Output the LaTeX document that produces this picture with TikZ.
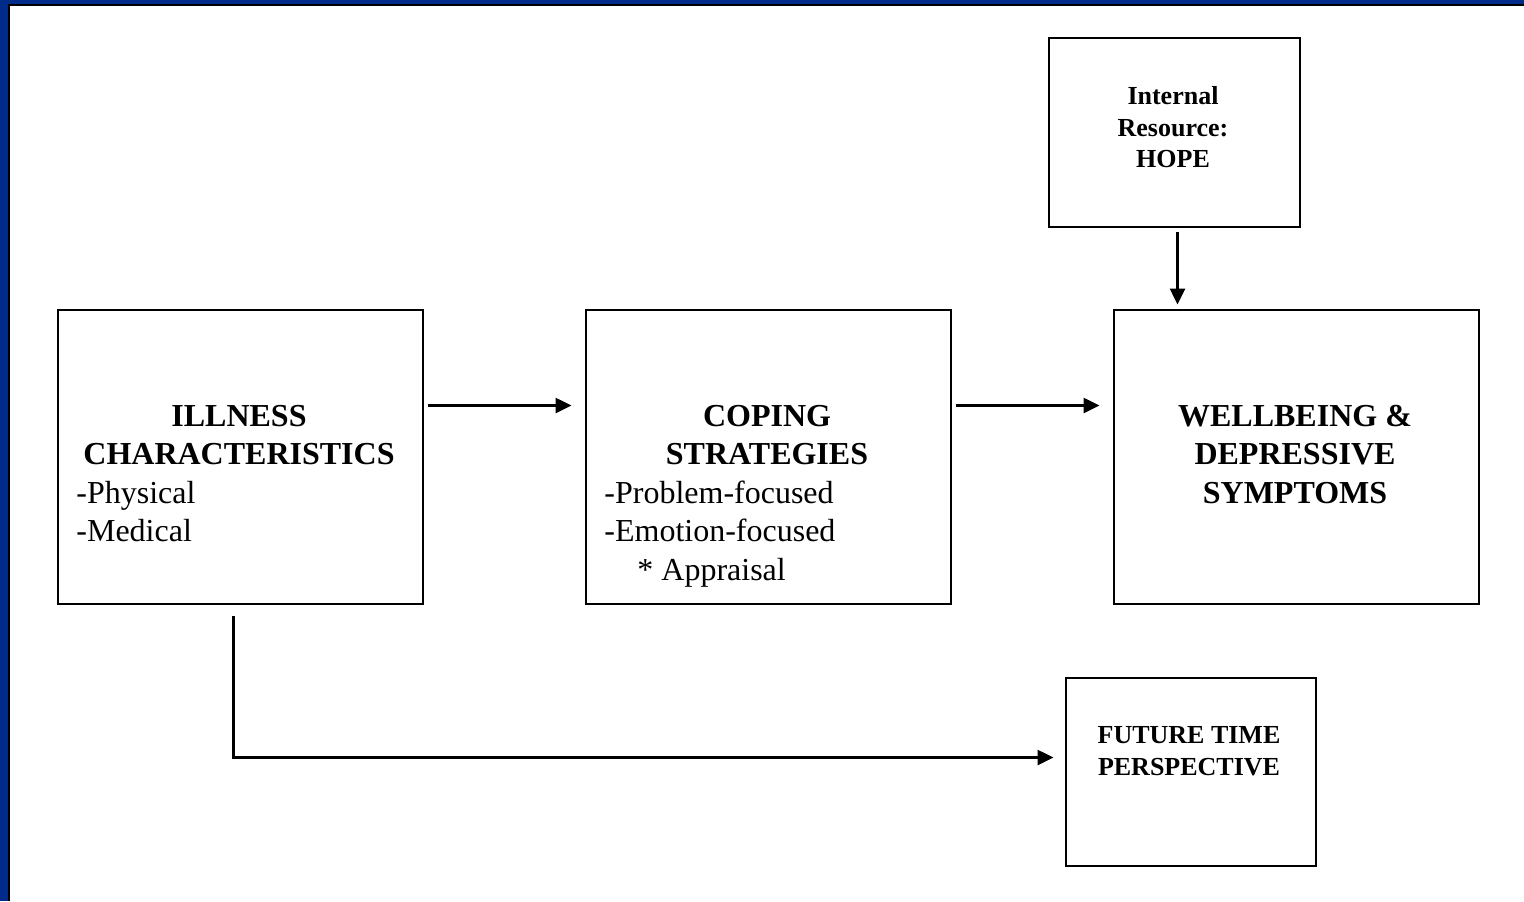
\documentclass[tikz,border=0pt]{standalone}
\usepackage{fontspec}
\setmainfont{Liberation Serif}
\usetikzlibrary{arrows.meta}
\definecolor{frameblue}{RGB}{0,43,138}
\begin{document}
\begin{tikzpicture}[x=0.5pt,y=-0.5pt,
  box/.style={draw,line width=1pt,inner sep=0,anchor=north west},
  reg/.style={font=\fontsize{16}{19}\selectfont,inner sep=0,anchor=base west},
  bigb/.style={font=\fontsize{16}{19}\selectfont\bfseries,inner sep=0,anchor=base},
  smallb/.style={font=\fontsize{13}{15.75}\selectfont\bfseries,inner sep=0,anchor=base},
  arr/.style={line width=1.3pt,-{Triangle[length=8pt,width=7.5pt]}}]
\useasboundingbox (0,0) rectangle (1524,901);
% frame
\fill[frameblue] (0,0) rectangle (1524,4);
\fill[frameblue] (0,0) rectangle (8,901);
\fill[black] (8,4) rectangle (1524,6);
\fill[black] (8,4) rectangle (10,901);
% boxes
\node[box,minimum width=182.5pt,minimum height=147pt] (ill) at (56.5,308.5) {};
\node[box,minimum width=182.5pt,minimum height=147pt] (cop) at (584.5,308.5) {};
\node[box,minimum width=182.5pt,minimum height=147pt] (well) at (1112.5,308.5) {};
\node[box,minimum width=125.5pt,minimum height=94.5pt] (int) at (1047.5,36.5) {};
\node[box,minimum width=125pt,minimum height=94pt] (fut) at (1064.5,676.5) {};
% texts
\node[bigb] (t1) at (239,426) {ILLNESS};
\node[bigb] (t2) at (239,464.5) {CHARACTERISTICS};
\node[reg] (t3) at (76,503) {-Physical};
\node[reg] (t4) at (76,541.5) {-Medical};
\node[bigb] (c1) at (767,426) {COPING};
\node[bigb] (c2) at (767,464.5) {STRATEGIES};
\node[reg] (c3) at (604,503) {-Problem-focused};
\node[reg] (c4) at (604,541.5) {-Emotion-focused};
\node[reg] (c5) at (637,580) {* Appraisal};
\node[bigb] (w1) at (1295,426) {WELLBEING \&};
\node[bigb] (w2) at (1295,464.5) {DEPRESSIVE};
\node[bigb] (w3) at (1295,503) {SYMPTOMS};
\node[smallb] (i1) at (1173,104.5) {Internal};
\node[smallb] (i2) at (1173,136) {Resource:};
\node[smallb] (i3) at (1173,167.5) {HOPE};
\node[smallb] (f1) at (1189,743.5) {FUTURE TIME};
\node[smallb] (f2) at (1189,775.5) {PERSPECTIVE};
% connectors
\draw[arr,shorten <=2pt,shorten >=6.5pt] ([yshift=25.5pt]ill.east) -- ([yshift=25.5pt]ill.east -| cop.west);
\draw[arr,shorten <=2pt,shorten >=6.5pt] ([yshift=25.5pt]cop.east) -- ([yshift=25.5pt]cop.east -| well.west);
\path (int.south) ++(1.75pt,0) coordinate (h1);
\draw[arr,shorten <=2pt,shorten >=2pt] (h1) -- (h1 |- well.north);
\draw[arr,shorten <=5.5pt,shorten >=5.5pt] ([xshift=-3.25pt]ill.south) |- ([yshift=7pt]fut.west);
\end{tikzpicture}
\end{document}
